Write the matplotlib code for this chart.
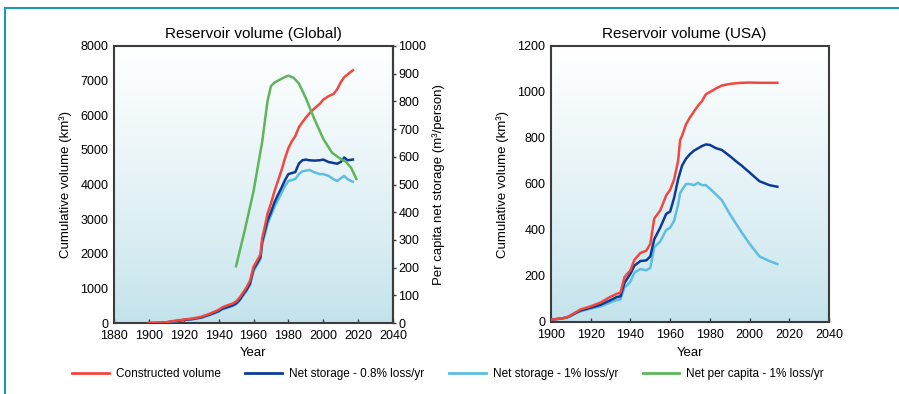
"""
Reservoir volume, global and USA: constructed volume and net storage after
sedimentation losses, plus per capita net storage for the global case.
"""

import numpy as np
import matplotlib.pyplot as plt
from matplotlib.colors import LinearSegmentedColormap
from matplotlib.lines import Line2D

plt.rcParams["font.family"] = ["Liberation Sans", "DejaVu Sans"]

# --- Global -----------------------------------------------------------------
glob_years = [1900, 1905, 1910, 1913, 1916, 1920, 1925, 1930, 1935, 1940, 1942,
              1945, 1948, 1950, 1952, 1954, 1956, 1958, 1960, 1962, 1964, 1965,
              1967, 1968, 1970, 1972, 1974, 1976, 1978, 1980, 1982, 1984, 1986,
              1988, 1990, 1992, 1995, 1998, 2000, 2003, 2006, 2008, 2010, 2012,
              2014, 2017]
glob_constructed = [0, 5, 20, 50, 70, 100, 130, 180, 270, 380, 450,
                    510, 560, 620, 730, 880, 1030, 1220, 1620, 1800, 1980, 2450,
                    2900, 3150, 3450, 3800, 4100, 4400, 4750, 5050, 5250, 5400, 5650,
                    5800, 5930, 6050, 6200, 6330, 6450, 6550, 6620, 6750, 6950, 7100,
                    7180, 7300]
glob_net08 = [0, 4, 16, 42, 60, 88, 115, 160, 245, 345, 410,
              460, 510, 565, 670, 820, 960, 1140, 1550, 1720, 1900, 2350,
              2750, 2950, 3200, 3480, 3700, 3900, 4120, 4300, 4330, 4360, 4600,
              4700, 4720, 4700, 4690, 4700, 4720, 4650, 4620, 4600, 4650, 4780,
              4700, 4720]
glob_net1 = [0, 3, 14, 38, 55, 80, 105, 150, 230, 325, 390,
             440, 490, 540, 640, 790, 930, 1100, 1500, 1670, 1850, 2280,
             2650, 2850, 3100, 3350, 3550, 3750, 3950, 4100, 4130, 4160, 4300,
             4380, 4400, 4420, 4350, 4300, 4300, 4250, 4150, 4100, 4180, 4250,
             4150, 4080]

percap_years = [1950, 1955, 1960, 1965, 1968, 1970, 1972, 1975, 1978, 1980,
                1983, 1986, 1990, 1995, 2000, 2005, 2010, 2013, 2016, 2019]
percap_net1 = [205, 335, 475, 655, 800, 855, 868, 878, 888, 893,
               885, 865, 812, 735, 665, 615, 592, 582, 560, 520]

# --- USA --------------------------------------------------------------------
usa_years = [1900, 1905, 1908, 1910, 1913, 1915, 1920, 1925, 1930, 1933, 1935,
             1937, 1940, 1942, 1945, 1948, 1950, 1952, 1955, 1958, 1960, 1962,
             1964, 1965, 1966, 1968, 1970, 1972, 1974, 1976, 1978, 1980, 1983,
             1986, 1990, 1993, 1996, 2000, 2005, 2010, 2014]
usa_constructed = [10, 15, 20, 30, 45, 55, 68, 85, 110, 122, 128,
                   195, 225, 270, 300, 310, 340, 450, 485, 550, 575, 620,
                   700, 790, 810, 860, 890, 915, 940, 960, 990, 1000, 1015,
                   1028, 1035, 1038, 1040, 1041, 1040, 1040, 1040]
usa_net08 = [10, 15, 20, 28, 42, 50, 62, 75, 95, 108, 112,
             170, 210, 245, 265, 268, 285, 360, 410, 470, 480, 540,
             620, 650, 680, 710, 730, 745, 755, 765, 772, 770, 756,
             748, 722, 700, 680, 650, 612, 595, 588]
usa_net1 = [10, 15, 18, 26, 40, 47, 58, 68, 85, 95, 98,
            150, 175, 215, 230, 225, 235, 325, 350, 400, 410, 440,
            510, 560, 575, 600, 600, 595, 605, 595, 595, 580, 555,
            530, 470, 430, 390, 340, 285, 265, 252]

RED = "#f2473f"
NAVY = "#0d3a94"
SKY = "#5ebde0"
GREEN = "#5fb55a"
SPINE = "#3c3c3c"

bg = LinearSegmentedColormap.from_list("bg", ["#c2e2eb", "#ffffff"])


def style_axes(ax):
    grad = np.linspace(0, 1, 256).reshape(-1, 1) ** 0.8
    ax.imshow(grad, cmap=bg, aspect="auto", extent=(0, 1, 0, 1),
              transform=ax.transAxes, origin="lower", zorder=0)
    for s in ax.spines.values():
        s.set_color(SPINE)
        s.set_linewidth(1.5)
    ax.tick_params(axis="x", direction="in", length=3, width=1, color=SPINE,
                   labelsize=9, pad=5)
    ax.tick_params(axis="y", direction="in", length=0, labelsize=9, pad=4)


fig = plt.figure(figsize=(8.99, 3.94), dpi=100)

# global panel
ax1 = fig.add_axes([114 / 899, 71 / 394, 279 / 899, 277 / 394])
style_axes(ax1)
lw = 1.8
ax1.plot(glob_years, glob_net1, color=SKY, lw=lw, zorder=3)
ax1.plot(glob_years, glob_net08, color=NAVY, lw=lw, zorder=4)
ax1.plot(glob_years, glob_constructed, color=RED, lw=lw, zorder=5)
ax1.set_xlim(1880, 2040)
ax1.set_ylim(0, 8000)
ax1.set_xticks(range(1880, 2041, 20))
ax1.set_yticks(range(0, 8001, 1000))
ax1.set_xlabel("Year", fontsize=9.5, labelpad=4)
ax1.set_ylabel("Cumulative volume (km³)", fontsize=9.5, labelpad=6)
ax1.set_title("Reservoir volume (Global)", fontsize=11, pad=6)

ax1r = ax1.twinx()
ax1r.plot(percap_years, percap_net1, color=GREEN, lw=lw)
ax1r.set_ylim(0, 1000)
ax1r.set_yticks(range(0, 1001, 100))
ax1r.tick_params(axis="y", direction="out", length=2, width=1, color=SPINE,
                 labelsize=9, pad=2)
ax1r.spines["right"].set_color(SPINE)
ax1r.spines["right"].set_linewidth(1.5)
for k in ("top", "left", "bottom"):
    ax1r.spines[k].set_visible(False)
ax1r.set_ylabel("Per capita net storage (m³/person)", fontsize=9.5, labelpad=4)

# USA panel
ax2 = fig.add_axes([551 / 899, 72 / 394, 278 / 899, 276 / 394])
style_axes(ax2)
ax2.plot(usa_years, usa_net1, color=SKY, lw=lw, zorder=3)
ax2.plot(usa_years, usa_net08, color=NAVY, lw=lw, zorder=4)
ax2.plot(usa_years, usa_constructed, color=RED, lw=lw, zorder=5)
ax2.set_xlim(1900, 2040)
ax2.set_ylim(0, 1200)
ax2.set_xticks(range(1900, 2041, 20))
ax2.set_yticks(range(0, 1201, 200))
ax2.set_xlabel("Year", fontsize=9.5, labelpad=4)
ax2.set_ylabel("Cumulative volume (km³)", fontsize=9.5, labelpad=6)
ax2.set_title("Reservoir volume (USA)", fontsize=11, pad=6, x=0.48)

handles = [Line2D([], [], color=c, lw=2) for c in (RED, NAVY, SKY, GREEN)]
labels = ["Constructed volume", "Net storage - 0.8% loss/yr",
          "Net storage - 1% loss/yr", "Net per capita - 1% loss/yr"]
fig.legend(handles, labels, loc="center left", bbox_to_anchor=(72 / 899, 20 / 394),
           ncol=4, frameon=False, fontsize=8.5, handlelength=3.1,
           handletextpad=0.6, columnspacing=2.1, borderpad=0, borderaxespad=0)

# teal frame at top and left
teal = "#1a98b6"
fig.add_artist(Line2D([5 / 899, 1], [1 - 8 / 394] * 2, color=teal, lw=1.5,
                      transform=fig.transFigure))
fig.add_artist(Line2D([5 / 899] * 2, [0, 1 - 8 / 394], color=teal, lw=1.5,
                      transform=fig.transFigure))

fig.savefig("out.png", dpi=100)
